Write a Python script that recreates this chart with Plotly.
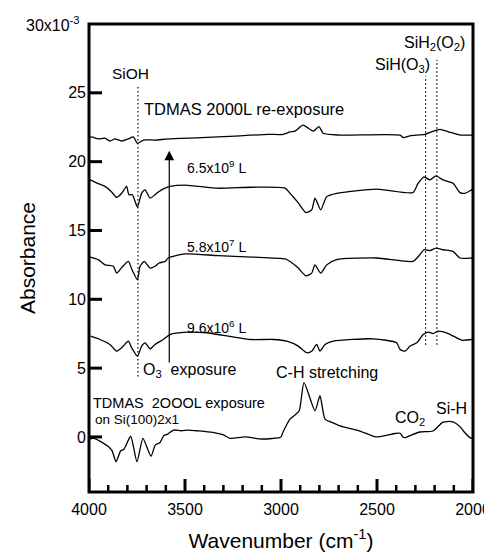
import plotly.graph_objects as go

# ---- data (Absorbance x10^-3 vs wavenumber cm^-1) ----
wn_initial = [4000, 3975, 3943, 3900, 3880, 3859, 3835, 3818, 3783, 3750, 3719, 3677, 3655, 3630, 3610,
              3590, 3560, 3520, 3480, 3440, 3400, 3344, 3300, 3266, 3188, 3099, 3000, 2990, 2953, 2927,
              2905, 2880, 2823, 2797, 2771, 2736, 2693, 2589, 2505, 2406, 2380, 2365, 2354, 2328, 2276,
              2208, 2161, 2146, 2104, 2068, 2042, 2016, 2000]
abs_initial = [-0.15, -0.1, -0.3, -0.7, -1.0, -1.8, -1.0, -0.9, 0.05, -1.8, -0.1, -1.4, -0.6, -0.4, 0.1,
               0.2, 0.5, 0.45, 0.5, 0.45, 0.4, 0.3, 0.15, -0.1, 0.0, -0.15, 0.0, 0.34, 1.3, 1.6,
               1.9, 3.95, 1.9, 3.0, 1.3, 1.06, 0.8, 0.43, 0.0, 0.25, 0.27, 0.0, -0.05, 0.1, 0.36,
               0.43, 1.04, 1.1, 1.09, 0.75, 0.3, -0.05, -0.1]

wn_96e6 = [3991, 3943, 3891, 3856, 3830, 3795, 3778, 3748, 3726, 3708, 3682, 3656, 3613, 3578, 3491,
           3387, 3162, 3040, 2970, 2910, 2867, 2840, 2814, 2797, 2771, 2728, 2519, 2398, 2380, 2354,
           2328, 2293, 2259, 2233, 2207, 2184, 2129, 2085, 2059, 2007, 2000]
abs_96e6 = [7.32, 7.08, 6.72, 6.23, 6.48, 6.96, 6.48, 5.87, 6.6, 6.84, 6.4, 6.72, 7.08, 7.44, 7.61,
            7.57, 7.08, 7.08, 6.96, 6.6, 6.12, 6.23, 6.72, 6.23, 6.72, 6.96, 7.13, 6.84, 6.36, 6.23,
            6.6, 6.84, 7.44, 7.61, 7.51, 7.68, 7.51, 7.2, 7.03, 7.08, 7.1]

wn_58e7 = [3995, 3952, 3917, 3873, 3856, 3830, 3795, 3776, 3748, 3734, 3712, 3682, 3656, 3635, 3604,
           3587, 3500, 3328, 3153, 2979, 2953, 2910, 2870, 2840, 2823, 2793, 2762, 2710, 2502, 2313,
           2287, 2255, 2224, 2193, 2156, 2104, 2068, 2007, 2000]
abs_58e7 = [13.07, 12.88, 12.5, 12.4, 11.9, 12.3, 12.75, 12.15, 11.43, 12.4, 12.75, 12.27, 12.4, 12.64, 12.75,
            13.0, 13.3, 13.17, 13.07, 12.93, 12.75, 12.27, 11.7, 11.9, 12.5, 11.9, 12.5, 12.88, 13.0, 12.75,
            13.07, 13.6, 13.53, 13.72, 13.6, 13.48, 13.0, 13.0, 13.0]

wn_65e9 = [3995, 3952, 3917, 3882, 3856, 3830, 3804, 3792, 3774, 3748, 3726, 3708, 3682, 3656, 3639,
           3604, 3578, 3500, 3328, 3153, 2979, 2953, 2910, 2870, 2840, 2823, 2793, 2762, 2710, 2502,
           2313, 2287, 2255, 2224, 2193, 2156, 2104, 2068, 2042, 2007, 2000]
abs_65e9 = [18.67, 18.4, 18.2, 17.8, 17.4, 17.7, 18.2, 17.6, 17.6, 16.7, 17.7, 17.95, 17.35, 17.6, 17.8,
            18.07, 18.2, 18.3, 18.07, 18.14, 18.07, 17.7, 17.0, 16.3, 16.5, 17.35, 16.5, 17.46, 17.7, 18.0,
            17.75, 18.4, 18.9, 18.67, 18.96, 18.67, 18.43, 17.75, 17.7, 17.95, 18.0]

wn_reexp = [4000, 3986, 3952, 3917, 3891, 3865, 3830, 3795, 3769, 3748, 3717, 3656, 3587, 3413, 3240,
            3066, 2988, 2953, 2927, 2885, 2832, 2802, 2780, 2693, 2380, 2363, 2328, 2250, 2215, 2172,
            2129, 2068, 2007, 2000]
abs_reexp = [21.75, 21.8, 21.65, 21.7, 21.5, 21.65, 21.5, 21.65, 21.8, 21.33, 21.57, 21.57, 21.65, 21.74, 21.86,
             21.98, 21.98, 22.17, 22.22, 22.65, 22.22, 22.54, 22.06, 21.93, 21.93, 21.74, 21.88, 21.98, 22.17, 22.35,
             22.17, 21.93, 21.93, 21.93]

x_major_ticks = [4000, 3500, 3000, 2500, 2000]
x_minor_ticks = [3900, 3800, 3700, 3600, 3400, 3300, 3200, 3100, 2900, 2800, 2700, 2600,
                 2400, 2300, 2200, 2100]
y_ticks = [0, 5, 10, 15, 20, 25]
y_top_label = "30x10<sup>-3</sup>"

# reference band positions (cm^-1)
band_sioh = 3745
band_sih_o3 = 2247
band_sih2_o2 = 2188
arrow_wn = 3582

FONT = "Liberation Sans, Arial, sans-serif"

fig = go.Figure()
for wn, ab in [(wn_initial, abs_initial), (wn_96e6, abs_96e6), (wn_58e7, abs_58e7),
               (wn_65e9, abs_65e9), (wn_reexp, abs_reexp)]:
    fig.add_trace(go.Scatter(x=wn, y=ab, mode="lines",
                             line=dict(color="black", width=1.3, shape="spline", smoothing=0.6),
                             showlegend=False, hoverinfo="skip"))

# dotted band markers
for xv, y0, y1 in [(band_sioh, 4.4, 25.6), (band_sih_o3, 6.7, 26.2), (band_sih2_o2, 6.7, 27.4)]:
    fig.add_shape(type="line", xref="x", yref="y", x0=xv, x1=xv, y0=y0, y1=y1,
                  line=dict(color="black", width=1.2, dash="1.5px,2.5px"))

# plot frame
fig.add_shape(type="rect", xref="paper", yref="paper", x0=0, x1=1, y0=0, y1=1,
              line=dict(color="black", width=3), fillcolor="rgba(0,0,0,0)")
# inside ticks (bottom and left)
for v in x_major_ticks:
    fig.add_shape(type="line", xref="x", x0=v, x1=v, yref="paper", ysizemode="pixel", yanchor=0,
                  y0=0, y1=13, line=dict(color="black", width=3))
for v in x_minor_ticks:
    fig.add_shape(type="line", xref="x", x0=v, x1=v, yref="paper", ysizemode="pixel", yanchor=0,
                  y0=0, y1=7, line=dict(color="black", width=2.5))
for v in y_ticks:
    fig.add_shape(type="line", yref="y", y0=v, y1=v, xref="paper", xsizemode="pixel", xanchor=0,
                  x0=0, x1=13, line=dict(color="black", width=3))

# arrow (O3 exposure)
fig.add_annotation(x=arrow_wn, y=20.8, ax=arrow_wn, ay=5.3, xref="x", yref="y", axref="x", ayref="y",
                   showarrow=True, arrowhead=2, arrowsize=1.6, arrowwidth=1.2, arrowcolor="black", text="")

def txt(x, y, s, size=16, anchor="center"):
    fig.add_annotation(x=x, y=y, xref="x", yref="y", text=s, showarrow=False, xanchor=anchor,
                       yanchor="middle", font=dict(family=FONT, size=size, color="black"))

txt(3785, 26.4, "SiOH", size=15.5)
txt(3722, 23.8, "TDMAS 2000L re-exposure", size=16.5, anchor="left")
txt(3500, 19.6, "6.5x10<sup>9</sup> L", size=14, anchor="left")
txt(3500, 13.9, "5.8x10<sup>7</sup> L", size=14, anchor="left")
txt(3500, 8.0, "9.6x10<sup>6</sup> L", size=14, anchor="left")
txt(3728, 4.8, "O<sub>3</sub>  exposure", size=16, anchor="left")
txt(3988, 2.5, "TDMAS  2OOOL exposure", size=14.5, anchor="left")
txt(3978, 1.3, "on Si(100)2x1", size=13.5, anchor="left")
txt(2760, 4.65, "C-H stretching", size=16)
txt(2330, 1.35, "CO<sub>2</sub>", size=16)
txt(2110, 2.1, "Si-H", size=16)
txt(2200, 28.6, "SiH<sub>2</sub>(O<sub>2</sub>)", size=16)
txt(2367, 27.0, "SiH(O<sub>3</sub>)", size=16)

# top y label (30x10^-3)
fig.add_annotation(x=0, y=30, xref="paper", yref="y", xanchor="right", yanchor="middle", xshift=-7,
                   text=y_top_label, showarrow=False, font=dict(family=FONT, size=16, color="black"))

fig.update_xaxes(range=[4000, 2000], tickmode="array", tickvals=x_major_ticks, ticks="",
                 showline=False, showgrid=False, zeroline=False, ticklabelstandoff=6,
                 tickfont=dict(family=FONT, size=16, color="black"),
                 title=dict(text="Wavenumber (cm<sup>-1</sup>)", font=dict(family=FONT, size=21, color="black"),
                            standoff=16))
fig.update_yaxes(range=[-4, 30], tickmode="array", tickvals=y_ticks, ticks="",
                 showline=False, showgrid=False, zeroline=False, ticklabelstandoff=2,
                 tickfont=dict(family=FONT, size=16, color="black"),
                 title=dict(text="Absorbance", font=dict(family=FONT, size=21, color="black"), standoff=26))

# body margin of the html page is 8px -> shrink figure so the plot frame lands on the reference pixels
fig.update_layout(width=484, height=544, margin=dict(l=81, r=19, t=16, b=60, autoexpand=False),
                  plot_bgcolor="white", paper_bgcolor="white", showlegend=False)

fig.write_html("out.html")
